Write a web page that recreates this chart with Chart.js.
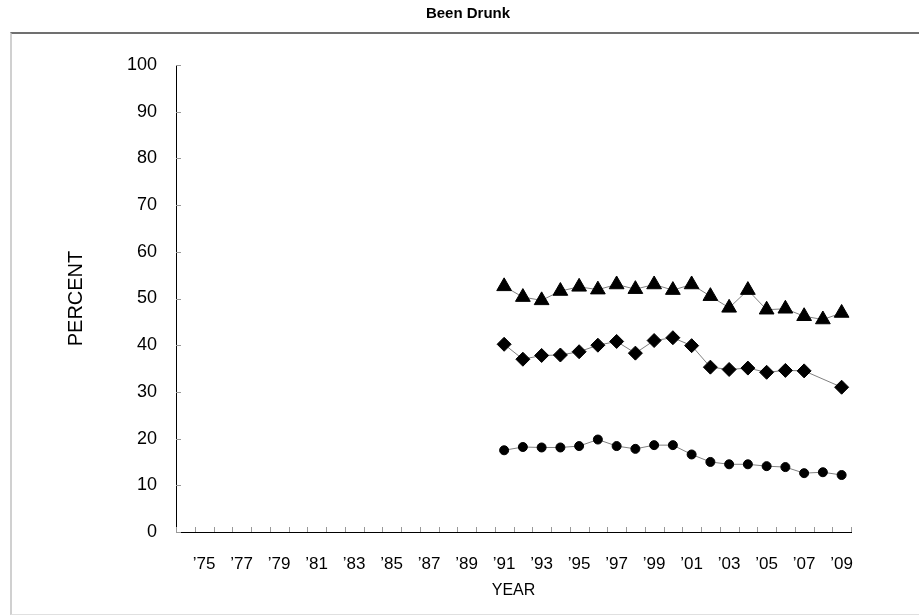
<!DOCTYPE html>
<html>
<head>
<meta charset="utf-8">
<script src="https://cdn.jsdelivr.net/npm/chart.js@4.4.1/dist/chart.umd.min.js"></script>
<style>
  html, body { margin: 0; padding: 0; background: #fff; }
  #wrap { position: relative; width: 919px; height: 615px; }
  #frame {
    position: absolute; left: 10px; top: 32px; width: 915px; height: 580px;
    border-top: 2px solid #707070; border-left: 2px solid #d0d0d0; border-bottom: 1px solid #e0e0e0;
  }
  canvas { position: absolute; left: 0; top: 0; }
</style>
</head>
<body>
<div id="wrap">
  <div id="frame"></div>
  <canvas id="drunkChart" width="919" height="615"></canvas>
</div>
<script>
// categories: survey years
const years = ['1974', '1975', '1976', '1977', '1978', '1979', '1980', '1981', '1982', '1983', '1984', '1985',
               '1986', '1987', '1988', '1989', '1990', '1991', '1992', '1993', '1994', '1995', '1996', '1997',
               '1998', '1999', '2000', '2001', '2002', '2003', '2004', '2005', '2006', '2007', '2008', '2009'];
const yearTicks = ['', '\u201975', '', '\u201977', '', '\u201979', '', '\u201981', '', '\u201983', '', '\u201985',
                   '', '\u201987', '', '\u201989', '', '\u201991', '', '\u201993', '', '\u201995', '', '\u201997',
                   '', '\u201999', '', '\u201901', '', '\u201903', '', '\u201905', '', '\u201907', '', '\u201909'];

// series values (1974-1990 not surveyed)
const triangleSeries = [null, null, null, null, null, null, null, null, null, null, null, null, null, null, null, null, null,
                        52.6, 50.3, 49.6, 51.6, 52.5, 51.9, 53.0, 52.0, 53.0, 51.8, 53.0, 50.5, 48.0, 51.8, 47.6, 47.8, 46.2, 45.5, 46.9];
const diamondSeries = [null, null, null, null, null, null, null, null, null, null, null, null, null, null, null, null, null,
                       40.2, 37.0, 37.8, 37.9, 38.6, 40.0, 40.8, 38.3, 41.0, 41.6, 39.9, 35.3, 34.8, 35.1, 34.2, 34.6, 34.5, null, 31.0];
const circleSeries = [null, null, null, null, null, null, null, null, null, null, null, null, null, null, null, null, null,
                      17.5, 18.2, 18.1, 18.1, 18.4, 19.8, 18.4, 17.8, 18.6, 18.6, 16.6, 15.0, 14.5, 14.5, 14.1, 13.9, 12.6, 12.8, 12.2];

const yTicks = [0, 10, 20, 30, 40, 50, 60, 70, 80, 90, 100];

const FONT = 'Arial, "Liberation Sans", sans-serif';

function series(data, style, radius) {
    return {
        data: data,
        yAxisID: 'y',
        borderColor: '#808080',
        borderWidth: 1,
        pointStyle: style,
        pointRadius: radius,
        pointHoverRadius: radius,
        pointBackgroundColor: '#000',
        pointBorderColor: '#000',
        pointBorderWidth: 1,
        spanGaps: true,
        tension: 0
    };
}

// small tick marks drawn inside the plot, like the original
const innerTicks = {
    id: 'innerTicks',
    afterDraw(chart) {
        const ctx = chart.ctx;
        const area = chart.chartArea;
        const x = chart.scales.x;
        const y = chart.scales.y;
        ctx.save();
        ctx.strokeStyle = '#999';
        ctx.lineWidth = 1;
        ctx.beginPath();
        yTicks.forEach(v => {
            const py = Math.round(y.getPixelForValue(v)) + 0.5;
            ctx.moveTo(area.left, py);
            ctx.lineTo(area.left + 5, py);
        });
        const half = (x.getPixelForValue(1) - x.getPixelForValue(0)) / 2;
        for (let i = 0; i <= years.length; i++) {
            const px = Math.round(x.getPixelForValue(i) - half) + 0.5;
            ctx.moveTo(px, area.bottom);
            ctx.lineTo(px, area.bottom - 5);
        }
        ctx.stroke();
        ctx.restore();
    }
};

const ctx = document.getElementById('drunkChart').getContext('2d');
const chart = new Chart(ctx, {
    type: 'line',
    data: {
        labels: years,
        datasets: [
            series(triangleSeries, 'triangle', 8.5),
            series(diamondSeries, 'rectRot', 7),
            series(circleSeries, 'circle', 4.5)
        ]
    },
    options: {
        responsive: false,
        animation: false,
        layout: {
            padding: { left: 17, right: 0, top: 0, bottom: 0 }
        },
        scales: {
            x: {
                type: 'category',
                offset: true,
                grid: { display: false, drawTicks: false },
                border: { display: true, color: '#000', width: 1 },
                ticks: {
                    autoSkip: false,
                    maxRotation: 0,
                    minRotation: 0,
                    padding: 22,
                    color: '#000',
                    font: { family: FONT, size: 17 },
                    callback: function (value, index) {
                        return yearTicks[index];
                    }
                },
                title: {
                    display: true,
                    text: 'YEAR',
                    color: '#000',
                    font: { family: FONT, size: 16 },
                    padding: { top: 6, bottom: 15 }
                },
                afterFit: function (scale) {
                    scale.height = 83;
                }
            },
            y: {
                min: 0,
                max: 100,
                grid: { display: false, drawTicks: false },
                border: { display: true, color: '#000', width: 1 },
                afterBuildTicks: function (scale) {
                    scale.ticks = yTicks.map(v => ({ value: v }));
                },
                ticks: {
                    padding: 19,
                    color: '#000',
                    font: { family: FONT, size: 18 }
                },
                title: {
                    display: true,
                    text: 'PERCENT',
                    color: '#000',
                    font: { family: FONT, size: 20 },
                    padding: { top: 47, bottom: 10 }
                },
                afterFit: function (scale) {
                    scale.width = 159;
                }
            },
            // empty strip on the right so the plot ends where the original does
            yRight: {
                position: 'right',
                display: true,
                grid: { display: false, drawTicks: false },
                border: { display: false },
                ticks: { display: false },
                afterFit: function (scale) {
                    scale.width = 68;
                }
            }
        },
        plugins: {
            legend: { display: false },
            tooltip: { enabled: false },
            title: {
                display: true,
                text: 'Been Drunk',
                color: '#000',
                font: { family: FONT, size: 15, weight: 'bold' },
                padding: { top: 5, bottom: 42 }
            }
        }
    },
    plugins: [innerTicks]
});
</script>
</body>
</html>
